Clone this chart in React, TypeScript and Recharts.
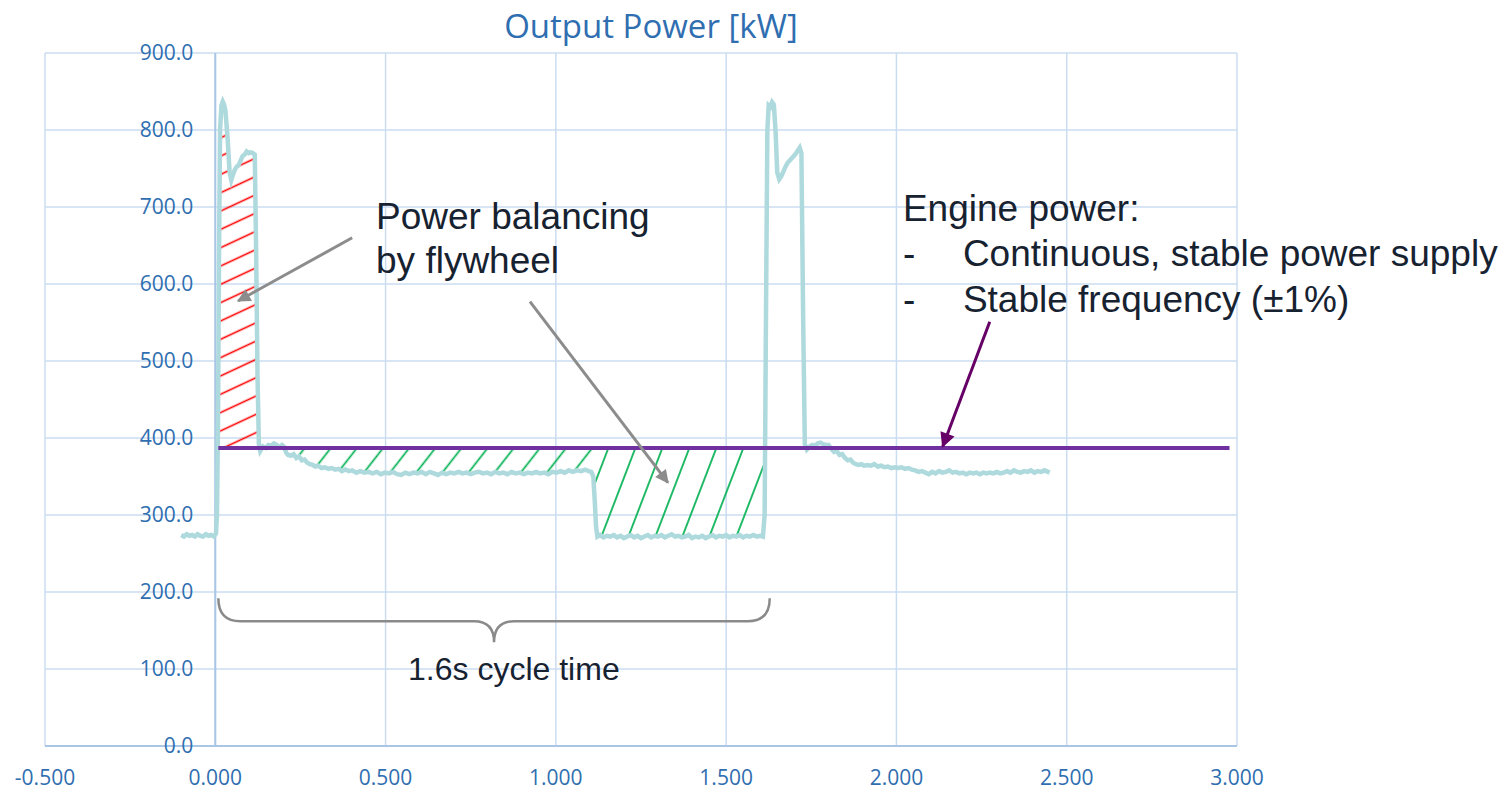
import { ComposedChart, Line, Area, XAxis, YAxis, CartesianGrid, ReferenceLine, ReferenceDot } from 'recharts'

// measured output power of the press, time in seconds
const timeS = [
  -0.100, -0.092, -0.084, -0.076, -0.068, -0.060, -0.052, -0.044, -0.036, -0.028, -0.020, -0.012, -0.004,
  0.002, 0.005, 0.008, 0.011, 0.014, 0.018, 0.022, 0.026, 0.030, 0.036, 0.042, 0.047, 0.052, 0.057, 0.062,
  0.068, 0.074, 0.080, 0.086, 0.092, 0.098, 0.104, 0.110, 0.116, 0.120, 0.124, 0.128, 0.132, 0.140, 0.148,
  0.156, 0.164, 0.172, 0.180, 0.188, 0.196, 0.203, 0.208, 0.214, 0.222, 0.230, 0.238, 0.246, 0.254, 0.262,
  0.270, 0.278, 0.286, 0.294, 0.302, 0.312, 0.322, 0.332, 0.342, 0.352, 0.362, 0.372, 0.382, 0.392, 0.402,
  0.414, 0.426, 0.438, 0.450, 0.462, 0.474, 0.486, 0.498, 0.510, 0.522, 0.534, 0.546, 0.558, 0.570, 0.582,
  0.594, 0.606, 0.618, 0.630, 0.642, 0.654, 0.666, 0.678, 0.690, 0.702, 0.714, 0.726, 0.738, 0.750, 0.762,
  0.774, 0.786, 0.798, 0.810, 0.822, 0.834, 0.846, 0.858, 0.870, 0.882, 0.894, 0.906, 0.918, 0.930, 0.942,
  0.954, 0.966, 0.978, 0.990, 1.002, 1.014, 1.026, 1.038, 1.050, 1.062, 1.074, 1.086, 1.096, 1.104, 1.110,
  1.114, 1.118, 1.122, 1.130, 1.140, 1.150, 1.160, 1.170, 1.180, 1.190, 1.200, 1.210, 1.220, 1.230, 1.240,
  1.250, 1.260, 1.270, 1.280, 1.290, 1.300, 1.310, 1.320, 1.330, 1.340, 1.350, 1.360, 1.370, 1.380, 1.390,
  1.400, 1.410, 1.420, 1.430, 1.440, 1.450, 1.460, 1.470, 1.480, 1.490, 1.500, 1.510, 1.520, 1.530, 1.540,
  1.550, 1.560, 1.570, 1.580, 1.590, 1.600, 1.608, 1.613, 1.617, 1.621, 1.625, 1.630, 1.635, 1.640, 1.645,
  1.650, 1.656, 1.662, 1.668, 1.674, 1.680, 1.686, 1.692, 1.698, 1.704, 1.710, 1.716, 1.721, 1.726, 1.731,
  1.737, 1.745, 1.753, 1.761, 1.769, 1.777, 1.785, 1.793, 1.801, 1.809, 1.817, 1.825, 1.833, 1.841, 1.849,
  1.857, 1.865, 1.873, 1.881, 1.889, 1.897, 1.905, 1.915, 1.925, 1.935, 1.945, 1.955, 1.965, 1.975, 1.985,
  1.995, 2.005, 2.015, 2.025, 2.035, 2.045, 2.055, 2.065, 2.075, 2.085, 2.095, 2.105, 2.115, 2.125, 2.135,
  2.145, 2.155, 2.165, 2.175, 2.185, 2.195, 2.205, 2.215, 2.225, 2.235, 2.245, 2.255, 2.265, 2.275, 2.285,
  2.295, 2.305, 2.315, 2.325, 2.335, 2.345, 2.355, 2.365, 2.375, 2.385, 2.395, 2.405, 2.415, 2.425, 2.435,
  2.445, 2.450,
]
const powerKW = [
  274, 272, 275, 273, 274, 272, 275, 273, 272, 275, 273, 274, 272,
  276, 300, 420, 640, 800, 832, 837, 833, 824, 790, 745, 735, 742, 748, 752,
  754, 760, 766, 768, 772, 770, 771, 770, 768, 640, 480, 392, 383, 389, 387,
  391, 390, 393, 391, 388, 391, 388, 381, 378, 377, 379, 374, 376, 371, 372,
  368, 366, 365, 363, 364, 361, 362, 360, 361, 359, 360, 357, 359, 357, 358,
  355, 357, 355, 356, 354, 356, 353, 355, 354, 356, 353, 352, 355, 353, 355,
  354, 356, 353, 356, 354, 352, 355, 353, 355, 354, 356, 354, 355, 353, 355,
  356, 354, 355, 353, 356, 354, 355, 353, 356, 354, 355, 353, 355, 354, 356,
  354, 355, 353, 356, 355, 357, 355, 358, 356, 358, 357, 359, 357, 356, 350,
  320, 285, 272, 274, 271, 273, 272, 274, 271, 273, 270, 272, 274, 271, 273,
  270, 272, 274, 271, 273, 272, 274, 271, 273, 275, 272, 273, 271, 272, 274,
  270, 272, 271, 273, 270, 272, 274, 271, 273, 272, 274, 271, 273, 272, 274,
  271, 273, 272, 274, 272, 273, 272, 300, 560, 800, 832, 830, 836, 833, 800,
  745, 736, 740, 746, 752, 757, 760, 763, 766, 769, 773, 777, 770, 560, 392,
  385, 389, 391, 390, 393, 394, 392, 391, 391, 386, 382, 383, 378, 379, 374,
  371, 372, 368, 366, 365, 366, 364, 365, 364, 366, 363, 364, 362, 363, 361,
  362, 361, 362, 360, 361, 359, 358, 356, 357, 355, 353, 356, 354, 357, 355,
  356, 358, 355, 356, 354, 355, 353, 355, 354, 355, 353, 355, 354, 355, 354,
  356, 354, 355, 357, 355, 358, 356, 355, 357, 356, 358, 355, 357, 356, 358,
  356, 355,
]

// constant engine power
const engineT = [0.009, 2.978]
const engineKW = [387, 387]

const xTicks = [-0.5, 0, 0.5, 1, 1.5, 2, 2.5, 3]
const yTicks = [0, 100, 200, 300, 400, 500, 600, 700, 800, 900]

// annotation anchors (data units)
const arrowFlywheelA = [{ x: 0.402, y: 660 }, { x: 0.067, y: 578 }]
const arrowFlywheelB = [{ x: 0.924, y: 577 }, { x: 1.329, y: 342 }]
const arrowEngine = [{ x: 2.274, y: 551 }, { x: 2.136, y: 389 }]
const cycleBrace = [{ x: 0.009, y: 192 }, { x: 1.628, y: 192 }]
const flywheelLabel = { x: 0.472, y: 671 }
const engineLabel = { x: 2.019, y: 682 }
const cycleLabel = { x: 0.566, y: 86 }

const X_MIN = -0.5
const X_MAX = 3
const CHART_W = 1492
const CHART_H = 782
const MARGIN = { top: 45, right: 263, bottom: 0, left: 36 }
const Y_AXIS_W = 1
const PLOT_W = CHART_W - MARGIN.left - MARGIN.right - Y_AXIS_W
const ZERO_OFFSET = (PLOT_W * (0 - X_MIN)) / (X_MAX - X_MIN)

const BLUE_TEXT = '#2f6eb0'
const GRID = '#cadcf0'
const AXIS = '#a9c6e6'
const NOTE = '#172231'

const series = timeS.map((t, i) => ({ t, p: powerKW[i] }))
const engine = engineT.map((t, i) => ({ t, p: engineKW[i] }))
const ENGINE = engineKW[0]

const redBand = series
  .filter(d => d.t >= 0.008 && d.t <= 0.128)
  .map(d => ({ t: d.t, band: [ENGINE, Math.max(ENGINE, Math.min(d.p, 795))] }))
const greenBand1 = series
  .filter(d => d.t >= 0.203 && d.t <= 1.110)
  .map(d => ({ t: d.t, band: [Math.min(d.p, ENGINE), ENGINE] }))
const greenBand2 = series
  .filter(d => d.t >= 1.110 && d.t <= 1.617)
  .map(d => ({ t: d.t, band: [Math.min(d.p, ENGINE), ENGINE] }))

const renderYTick = (props: any) => {
  const { x, y, payload } = props
  return (
    <text x={x + ZERO_OFFSET - 22} y={y} dy="0.355em" textAnchor="end" fill={BLUE_TEXT} fontSize={21} fontFamily="Open Sans">
      {Number(payload.value).toFixed(1)}
    </text>
  )
}

const renderXTick = (props: any) => {
  const { x, y, payload } = props
  return (
    <text x={x} y={y} dy="0.71em" textAnchor="middle" fill={BLUE_TEXT} fontSize={21} fontFamily="Open Sans">
      {Number(payload.value).toFixed(3)}
    </text>
  )
}

const arrow = (color: string, marker: string, width: number) => (p: any) => (
  <line x1={p.x1} y1={p.y1} x2={p.x2} y2={p.y2} stroke={color} strokeWidth={width} markerEnd={`url(#${marker})`} />
)

function brace(p: any) {
  const { x1, y1, x2 } = p
  const mid = (x1 + x2) / 2
  const d = `M${x1},${y1} Q${x1},${y1 + 23} ${x1 + 22},${y1 + 23} L${mid - 20},${y1 + 23} Q${mid},${y1 + 23} ${mid},${y1 + 44} Q${mid},${y1 + 23} ${mid + 20},${y1 + 23} L${x2 - 22},${y1 + 23} Q${x2},${y1 + 23} ${x2},${y1}`
  return <path d={d} fill="none" stroke="#8a8a8a" strokeWidth={2.5} />
}

export default function App() {
  return (
    <div style={{ position: 'relative', width: CHART_W, height: CHART_H }}>
      <div style={{ position: 'absolute', left: 0, top: 1, width: 2 * 643, textAlign: 'center', fontFamily: 'Open Sans', fontSize: 33, lineHeight: '33px', color: BLUE_TEXT }}>
        Output Power [kW]
      </div>
      <ComposedChart width={CHART_W} height={CHART_H} margin={MARGIN} style={{ overflow: 'visible' }}>
        <defs>
          <pattern id="hatchRed" patternUnits="userSpaceOnUse" width="12" height="16.6" patternTransform="rotate(-25)">
            <line x1="0" y1="8.3" x2="12" y2="8.3" stroke="#ff0000" strokeWidth="1.6" />
          </pattern>
          <pattern id="hatchGreen1" patternUnits="userSpaceOnUse" width="12" height="20.6" patternTransform="rotate(-52)">
            <line x1="0" y1="10.3" x2="12" y2="10.3" stroke="#00b050" strokeWidth="1.7" />
          </pattern>
          <pattern id="hatchGreen2" patternUnits="userSpaceOnUse" width="12" height="25.2" patternTransform="rotate(-69)">
            <line x1="0" y1="12.6" x2="12" y2="12.6" stroke="#00b050" strokeWidth="1.7" />
          </pattern>
          <marker id="headGray" viewBox="0 0 10 10" refX="9" refY="5" markerWidth="5" markerHeight="4.5" orient="auto">
            <path d="M0,0 L10,5 L0,10 z" fill="#8c8c8c" />
          </marker>
          <marker id="headPurple" viewBox="0 0 10 10" refX="9" refY="5" markerWidth="5.5" markerHeight="5" orient="auto">
            <path d="M0,0 L10,5 L0,10 z" fill="#660066" />
          </marker>
        </defs>
        <CartesianGrid stroke={GRID} strokeWidth={1.5} />
        <XAxis
          dataKey="t"
          type="number"
          domain={[X_MIN, X_MAX]}
          ticks={xTicks}
          interval={0}
          height={44}
          tickSize={0}
          tickMargin={24}
          axisLine={{ stroke: AXIS, strokeWidth: 2 }}
          tick={renderXTick}
          allowDataOverflow
        />
        <YAxis
          type="number"
          domain={[0, 900]}
          ticks={yTicks}
          interval={0}
          width={Y_AXIS_W}
          tickSize={0}
          tickMargin={0}
          axisLine={false}
          tick={renderYTick}
          allowDataOverflow
        />
        <ReferenceLine x={0} stroke={AXIS} strokeWidth={2} />
        <Area data={redBand} dataKey="band" type="linear" stroke="none" fill="url(#hatchRed)" fillOpacity={1} isAnimationActive={false} />
        <Area data={greenBand1} dataKey="band" type="linear" stroke="none" fill="url(#hatchGreen1)" fillOpacity={1} isAnimationActive={false} />
        <Area data={greenBand2} dataKey="band" type="linear" stroke="none" fill="url(#hatchGreen2)" fillOpacity={1} isAnimationActive={false} />
        <Line data={series} dataKey="p" type="linear" stroke="#aed9dd" strokeWidth={4.5} dot={false} activeDot={false} isAnimationActive={false} />
        <Line data={engine} dataKey="p" type="linear" stroke="#7030a0" strokeWidth={4} dot={false} activeDot={false} isAnimationActive={false} />
        <ReferenceLine segment={arrowFlywheelA} shape={arrow('#8c8c8c', 'headGray', 3)} />
        <ReferenceLine segment={arrowFlywheelB} shape={arrow('#8c8c8c', 'headGray', 3)} />
        <ReferenceLine segment={arrowEngine} shape={arrow('#660066', 'headPurple', 3)} />
        <ReferenceLine segment={cycleBrace} shape={brace} />
        <ReferenceDot
          x={flywheelLabel.x}
          y={flywheelLabel.y}
          r={1}
          shape={(p: any) => (
            <text x={p.cx} y={p.cy} fill={NOTE} fontSize={37} fontFamily="Liberation Sans">
              <tspan x={p.cx}>Power balancing</tspan>
              <tspan x={p.cx} dy={44}>by flywheel</tspan>
            </text>
          )}
        />
        <ReferenceDot
          x={engineLabel.x}
          y={engineLabel.y}
          r={1}
          shape={(p: any) => (
            <text x={p.cx} y={p.cy} fill={NOTE} fontSize={37} fontFamily="Liberation Sans">
              <tspan x={p.cx}>Engine power:</tspan>
              <tspan x={p.cx} dy={45.5}>-</tspan>
              <tspan x={p.cx + 60}>Continuous, stable power supply</tspan>
              <tspan x={p.cx} dy={45.5}>-</tspan>
              <tspan x={p.cx + 60}>Stable frequency (±1%)</tspan>
            </text>
          )}
        />
        <ReferenceDot
          x={cycleLabel.x}
          y={cycleLabel.y}
          r={1}
          shape={(p: any) => (
            <text x={p.cx} y={p.cy} fill={NOTE} fontSize={32} fontFamily="Liberation Sans">
              1.6s cycle time
            </text>
          )}
        />
      </ComposedChart>
    </div>
  )
}
